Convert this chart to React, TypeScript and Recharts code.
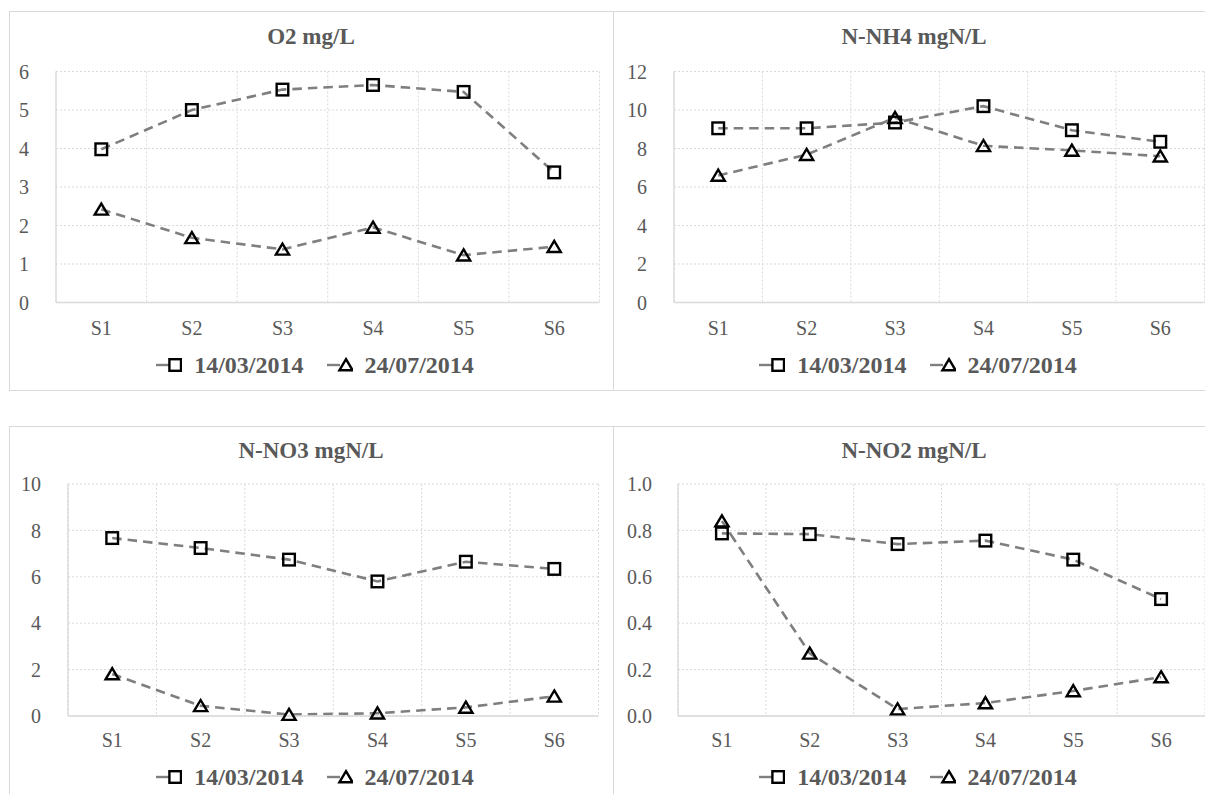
import React from "react";
import { LineChart, Line, XAxis, YAxis, CartesianGrid, Legend } from "recharts";

const FONT = '"Liberation Serif", "Times New Roman", serif';
const TEXT = "#595959";
const GRID = "#d9d9d9";
const LINE = "#7f7f7f";

const STATIONS = ["S1", "S2", "S3", "S4", "S5", "S6"];
const SERIES_NAMES = ["14/03/2014", "24/07/2014"];

// values
const O2_MARCH = [3.98, 5.0, 5.53, 5.65, 5.47, 3.38];
const O2_JULY = [2.42, 1.68, 1.38, 1.95, 1.23, 1.45];
const NH4_MARCH = [9.05, 9.05, 9.35, 10.2, 8.95, 8.35];
const NH4_JULY = [6.6, 7.68, 9.6, 8.14, 7.9, 7.6];
const NO3_MARCH = [7.67, 7.24, 6.74, 5.8, 6.65, 6.34];
const NO3_JULY = [1.81, 0.44, 0.06, 0.12, 0.37, 0.85];
const NO2_MARCH = [0.787, 0.784, 0.741, 0.756, 0.674, 0.504];
const NO2_JULY = [0.84, 0.27, 0.03, 0.056, 0.108, 0.168];

const O2_TICKS = [0, 1, 2, 3, 4, 5, 6];
const NH4_TICKS = [0, 2, 4, 6, 8, 10, 12];
const NO3_TICKS = [0, 2, 4, 6, 8, 10];
const NO2_TICKS = [0, 0.2, 0.4, 0.6, 0.8, 1.0];

const buildData = (march: number[], july: number[]) =>
  STATIONS.map((s, i) => ({ station: s, march: march[i], july: july[i] }));

const SquareDot = (props: any) => {
  const { cx, cy, index } = props;
  if (cx == null || cy == null) return null;
  return (
    <rect
      key={`sq-${index}`}
      x={cx - 5.8}
      y={cy - 5.8}
      width={11.6}
      height={11.6}
      fill="none"
      stroke="#000"
      strokeWidth={2.4}
    />
  );
};

const TriangleDot = (props: any) => {
  const { cx, cy, index } = props;
  if (cx == null || cy == null) return null;
  return (
    <path
      key={`tr-${index}`}
      d={`M${cx},${cy - 5.8} L${cx + 6.6},${cy + 5.3} L${cx - 6.6},${cy + 5.3} Z`}
      fill="none"
      stroke="#000"
      strokeWidth={2.4}
    />
  );
};

const renderLegend = (props: any) => {
  const { payload = [] } = props;
  return (
    <div
      style={{
        display: "flex",
        justifyContent: "center",
        alignItems: "center",
        height: 30,
        paddingLeft: 8,
        fontFamily: FONT,
        fontWeight: "bold",
        fontSize: 24,
        color: TEXT,
      }}
    >
      {payload.map((entry: any, i: number) => (
        <div
          key={entry.value}
          style={{ display: "flex", alignItems: "center", marginLeft: i ? 23 : 0 }}
        >
          <svg width={26} height={16}>
            <line x1={0} y1={8} x2={13} y2={8} stroke={LINE} strokeWidth={2.4} />
            {entry.dataKey === "march" ? (
              <rect x={13.4} y={2.2} width={11.6} height={11.6} fill="none" stroke="#000" strokeWidth={2.4} />
            ) : (
              <path d="M19,2.2 L25.6,13.3 L12.4,13.3 Z" fill="none" stroke="#000" strokeWidth={2.4} />
            )}
          </svg>
          <span style={{ marginLeft: 12, lineHeight: "30px" }}>{entry.value}</span>
        </div>
      ))}
    </div>
  );
};

interface PanelProps {
  left: number;
  top: number;
  boxWidth: number;
  boxHeight: number;
  chartWidth: number;
  chartHeight: number;
  title: string;
  titleCenter: number;
  data: { station: string; march: number; july: number }[];
  ticks: number[];
  fmt?: (v: number) => string;
  plot: { left: number; right: number; top: number; bottom: number };
  tickGap: number;
  xLabelGap: number;
  legendCenter: number;
}

function Panel({
  left,
  top,
  boxWidth,
  boxHeight,
  chartWidth,
  chartHeight,
  title,
  titleCenter,
  data,
  ticks,
  fmt,
  plot,
  tickGap,
  xLabelGap,
  legendCenter,
}: PanelProps) {
  const legendTop = legendCenter - 15;
  const marginBottom = chartHeight - legendCenter - 15;
  const xAxisHeight = legendTop - plot.bottom;
  const band = (plot.right - plot.left) / STATIONS.length;
  const tickStyle = { fill: TEXT, fontSize: 20, fontFamily: FONT };

  return (
    <div
      style={{
        position: "absolute",
        left,
        top,
        width: boxWidth,
        height: boxHeight,
        boxSizing: "border-box",
        border: `1px solid ${GRID}`,
        background: "#fff",
      }}
    >
      <div
        style={{
          position: "absolute",
          left: 0,
          top: titleCenter - 15,
          width: chartWidth,
          lineHeight: "30px",
          textAlign: "center",
          fontFamily: FONT,
          fontWeight: "bold",
          fontSize: 23,
          color: TEXT,
        }}
      >
        {title}
      </div>
      <LineChart
        width={chartWidth}
        height={chartHeight}
        data={data}
        margin={{ top: plot.top, right: chartWidth - plot.right, left: 0, bottom: marginBottom }}
      >
        <CartesianGrid
          stroke={GRID}
          strokeDasharray="2 2"
          verticalCoordinatesGenerator={({ offset }: any) =>
            Array.from({ length: STATIONS.length + 1 }, (_, i) => offset.left + (i * offset.width) / STATIONS.length)
          }
        />
        <XAxis
          dataKey="station"
          interval={0}
          padding={{ left: band / 2, right: band / 2 }}
          tick={tickStyle}
          tickLine={false}
          tickSize={0}
          tickMargin={xLabelGap}
          axisLine={{ stroke: GRID, strokeWidth: 1.3 }}
          height={xAxisHeight}
        />
        <YAxis
          domain={[ticks[0], ticks[ticks.length - 1]]}
          ticks={ticks}
          tickFormatter={fmt}
          width={plot.left}
          tick={tickStyle}
          tickLine={false}
          tickSize={0}
          tickMargin={tickGap}
          axisLine={{ stroke: GRID, strokeWidth: 1.3 }}
        />
        <Legend
          verticalAlign="bottom"
          content={renderLegend}
          wrapperStyle={{ left: 0, width: chartWidth }}
        />
        <Line
          dataKey="march"
          name={SERIES_NAMES[0]}
          stroke={LINE}
          strokeWidth={2.6}
          strokeDasharray="9.5 6"
          dot={SquareDot}
          activeDot={false}
          isAnimationActive={false}
        />
        <Line
          dataKey="july"
          name={SERIES_NAMES[1]}
          stroke={LINE}
          strokeWidth={2.6}
          strokeDasharray="9.5 6"
          dot={TriangleDot}
          activeDot={false}
          isAnimationActive={false}
        />
      </LineChart>
    </div>
  );
}

export default function App() {
  return (
    <div
      style={{
        position: "fixed",
        left: 0,
        top: 0,
        width: 1205,
        height: 794,
        overflow: "hidden",
        background: "#fff",
      }}
    >
      <Panel
        left={9}
        top={11}
        boxWidth={605}
        boxHeight={380}
        chartWidth={602}
        chartHeight={377}
        title="O2 mg/L"
        titleCenter={25}
        data={buildData(O2_MARCH, O2_JULY)}
        ticks={O2_TICKS}
        plot={{ left: 46, right: 589.5, top: 59.5, bottom: 290.5 }}
        tickGap={27}
        xLabelGap={18}
        legendCenter={353}
      />
      <Panel
        left={613}
        top={11}
        boxWidth={605}
        boxHeight={380}
        chartWidth={600}
        chartHeight={377}
        title="N-NH4 mgN/L"
        titleCenter={25}
        data={buildData(NH4_MARCH, NH4_JULY)}
        ticks={NH4_TICKS}
        plot={{ left: 60, right: 590.5, top: 59.5, bottom: 290.5 }}
        tickGap={27}
        xLabelGap={18}
        legendCenter={353}
      />
      <Panel
        left={9}
        top={426}
        boxWidth={605}
        boxHeight={400}
        chartWidth={602}
        chartHeight={380}
        title="N-NO3 mgN/L"
        titleCenter={24}
        data={buildData(NO3_MARCH, NO3_JULY)}
        ticks={NO3_TICKS}
        plot={{ left: 58, right: 588.5, top: 57, bottom: 289 }}
        tickGap={27}
        xLabelGap={17}
        legendCenter={350}
      />
      <Panel
        left={613}
        top={426}
        boxWidth={605}
        boxHeight={400}
        chartWidth={600}
        chartHeight={380}
        title="N-NO2 mgN/L"
        titleCenter={24}
        data={buildData(NO2_MARCH, NO2_JULY)}
        ticks={NO2_TICKS}
        fmt={(v: number) => v.toFixed(1)}
        plot={{ left: 64, right: 591, top: 57, bottom: 289 }}
        tickGap={26}
        xLabelGap={17}
        legendCenter={350}
      />
    </div>
  );
}
